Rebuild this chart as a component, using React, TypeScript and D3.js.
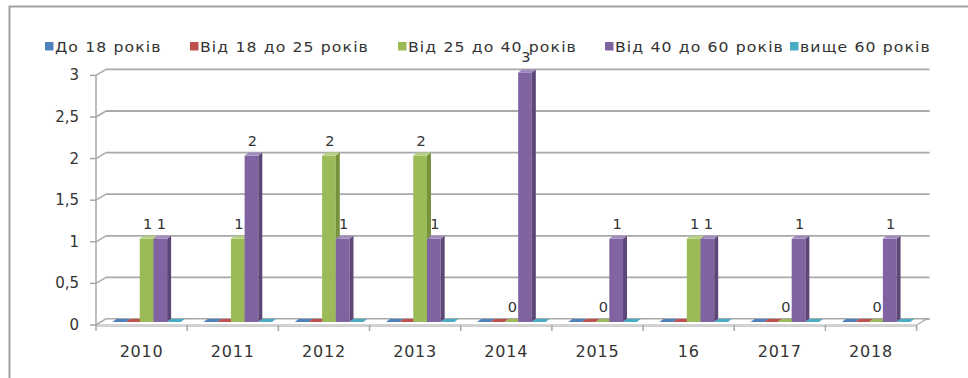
import React from "react";
import * as d3 from "d3";

const categories = ["2010", "2011", "2012", "2013", "2014", "2015", "16", "2017", "2018"];
const seriesNames = ["До 18 років", "Від 18 до 25 років", "Від 25 до 40 років", "Від 40 до 60 років", "вище 60 років"];
const under18 = [0, 0, 0, 0, 0, 0, 0, 0, 0];
const from18to25 = [0, 0, 0, 0, 0, 0, 0, 0, 0];
const from25to40 = [1, 1, 2, 2, 0, 0, 1, 0, 0];
const from40to60 = [1, 2, 1, 1, 3, 1, 1, 1, 1];
const over60 = [0, 0, 0, 0, 0, 0, 0, 0, 0];
const seriesValues = [under18, from18to25, from25to40, from40to60, over60];
const labeledSeries = [2, 3];
const yTicks = [0, 0.5, 1, 1.5, 2, 2.5, 3];

const colors = ["#4F81BD", "#C0504D", "#9BBB59", "#8064A2", "#4BACC6"];
const sideColors = ["#3A6190", "#923D3B", "#76923C", "#5C4776", "#35869B"];
const topColors = ["#7EA3D1", "#D47D7B", "#B5CF84", "#A08ABF", "#7FC6D9"];
const legendX = [45, 190, 398, 605, 790];

const W = 968;
const H = 378;
const DX = 10; // depth offset x (front -> back)
const DY = 6; // depth offset y
const BDX = 4; // bar depth
const BDY = 3;

export default function App() {
  const xBack = d3.scaleBand<string>().domain(categories).range([106, 926.6]).padding(0);
  const inner = d3
    .scaleBand<number>()
    .domain(d3.range(seriesNames.length))
    .range([0, xBack.bandwidth()])
    .paddingInner(0)
    .paddingOuter(0.83);
  const yBack = d3.scaleLinear().domain([0, 3]).range([319, 69.4]);
  const fmt = (v: number) => String(v).replace(".", ",");
  const grid = "#a9a9a9";
  const textCol = "#333";
  const font = "DejaVu Sans, sans-serif";

  const x0Front = xBack.range()[0] - DX;
  const x1Front = xBack.range()[1] - DX;
  const floorY = yBack(0);

  const bars: React.ReactNode[] = [];
  const labels: React.ReactNode[] = [];
  categories.forEach((c, ci) => {
    seriesValues.forEach((vals, si) => {
      const v = vals[ci];
      const x = (xBack(c) as number) - DX / 2 + (inner(si) as number);
      const w = inner.bandwidth();
      const yb = yBack(0) + DY / 2;
      const yt = yBack(v) + DY / 2;
      const key = `${ci}-${si}`;
      bars.push(
        <g key={key}>
          {v > 0 && <rect x={x} y={yt} width={w} height={yb - yt} fill={colors[si]} />}
          {v > 0 && (
            <polygon
              points={`${x + w},${yt} ${x + w + BDX},${yt - BDY} ${x + w + BDX},${yb - BDY} ${x + w},${yb}`}
              fill={sideColors[si]}
            />
          )}
          <polygon
            points={`${x},${yt} ${x + w},${yt} ${x + w + BDX},${yt - BDY} ${x + BDX},${yt - BDY}`}
            fill={v > 0 ? topColors[si] : colors[si]}
          />
        </g>
      );
      if (labeledSeries.includes(si)) {
        labels.push(
          <text
            key={"l" + key}
            x={x + w / 2 + 1}
            y={yt - 10}
            textAnchor="middle"
            fontSize={14.5}
            fontFamily={font}
            fill={textCol}
          >
            {v}
          </text>
        );
      }
    });
  });

  return (
    <svg width={W} height={H} style={{ position: "absolute", left: 0, top: 0 }}>
      <rect x={0} y={0} width={W} height={H} fill="#fff" />
      <path d={`M9.5,${H} V6.5 H${W}`} fill="none" stroke="#a0a0a0" strokeWidth={2} />

      {/* back wall gridlines and side wall diagonals */}
      {yTicks.map((t) => (
        <g key={t}>
          <line x1={xBack.range()[0]} x2={xBack.range()[1] + 3} y1={yBack(t)} y2={yBack(t)} stroke={grid} strokeWidth={1.8} />
          <line x1={x0Front} y1={yBack(t) + DY} x2={xBack.range()[0]} y2={yBack(t)} stroke={grid} strokeWidth={1.5} />
          <line x1={x0Front - 6} x2={x0Front} y1={yBack(t) + DY} y2={yBack(t) + DY} stroke={grid} strokeWidth={1.5} />
          <text
            x={79}
            y={yBack(t) + DY + 5}
            textAnchor="end"
            fontSize={15}
            fontFamily={font}
            fill={textCol}
          >
            {fmt(t)}
          </text>
        </g>
      ))}
      <line x1={x0Front} x2={x0Front} y1={yBack(3) + DY} y2={floorY + DY + 1} stroke={grid} strokeWidth={1.5} />

      {/* floor */}
      <polygon
        points={`${x0Front},${floorY + DY} ${x1Front},${floorY + DY} ${x1Front + DX},${floorY} ${x0Front + DX},${floorY}`}
        fill="#fff"
        stroke={grid}
        strokeWidth={1.2}
      />
      <line x1={x0Front} x2={x1Front} y1={floorY + DY + 1.5} y2={floorY + DY + 1.5} stroke="#cfcfcf" strokeWidth={1} />
      {d3.range(categories.length + 1).map((i) => {
        const x = x0Front + i * xBack.step();
        return <line key={"t" + i} x1={x} x2={x} y1={floorY + DY} y2={floorY + DY + 6} stroke={grid} strokeWidth={1.5} />;
      })}

      {bars}
      {labels}

      {/* legend */}
      {seriesNames.map((n, i) => (
        <g key={n}>
          <rect x={legendX[i]} y={42} width={8.5} height={8.5} fill={colors[i]} />
          <g transform={`translate(${legendX[i] + 10},52) scale(1.12,1)`}>
            <text x={0} y={0} fontSize={14} fontFamily={font} fill={textCol} letterSpacing={1}>
              {n}
            </text>
          </g>
        </g>
      ))}

      {/* category labels */}
      {categories.map((c) => (
        <text
          key={"c" + c}
          x={(xBack(c) as number) - DX + xBack.bandwidth() / 2}
          y={357}
          textAnchor="middle"
          fontSize={16}
          fontFamily={font}
          fill={textCol}
          letterSpacing={0.8}
        >
          {c}
        </text>
      ))}
    </svg>
  );
}
